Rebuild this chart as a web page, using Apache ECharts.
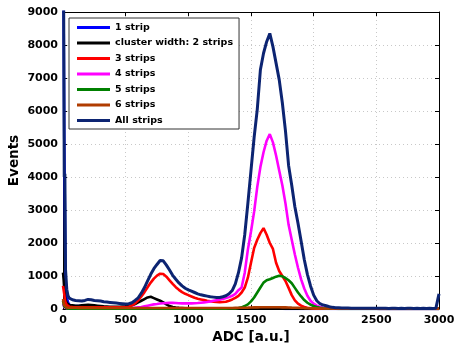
<!DOCTYPE html>
<html>
<head>
<meta charset="utf-8">
<script src="https://cdn.jsdelivr.net/npm/echarts@6/dist/echarts.min.js"></script>
<style>html,body{margin:0;padding:0;background:#fff;}#c{width:456px;height:345px;}</style>
</head>
<body>
<div id="c"></div>
<script>
// ADC bin positions
const adc = [0,5,10,15,20,30,40,50,
 75,100,125,150,175,200,225,250,275,300,325,350,375,400,425,450,475,500,
 525,550,575,600,625,650,675,700,725,750,775,800,825,850,875,900,925,950,975,1000,
 1025,1050,1075,1100,1125,1150,1175,1200,1225,1250,1275,1300,1325,1350,1375,1400,1425,1450,1475,1500,
 1525,1550,1575,1600,1625,1650,1675,1700,1725,1750,1775,1800,1825,1850,1875,1900,1925,1950,1975,2000,
 2025,2050,2075,2100,2125,2150,2175,2200,2225,2250,2275,2300,2325,2350,2375,2400,2425,2450,2475,2500,
 2525,2550,2575,2600,2625,2650,2675,2700,2725,2750,2775,2800,2825,2850,2875,2900,2925,2950,2975,
 2990,3000];

const strip1 = [12000,9000,5200,3000,700,350,200,130,
 100,90,90,100,110,110,100,90,70,50,40,30,25,20,20,15,15,15,
 12,12,10,10,10,10,10,10,10,10,10,10,10,10,8,8,8,8,8,8,
 8,8,8,7,7,7,7,6,6,6,6,6,6,6,6,6,6,6,6,6,
 6,6,6,6,6,6,6,6,6,6,5,5,5,5,5,5,5,5,5,5,
 5,5,5,5,5,5,5,5,5,5,5,5,5,5,5,5,5,5,5,5,
 5,5,5,5,5,5,5,5,5,5,5,5,5,5,5,5,5,5,5,
 5,5];

const strip2 = [1100,900,600,400,280,180,140,120,
 110,100,100,110,120,130,120,110,100,90,80,75,70,70,70,70,75,80,
 90,110,150,200,250,300,350,370,330,290,250,200,140,90,60,45,35,30,25,20,
 18,16,15,14,13,12,12,11,11,10,10,10,10,10,10,10,10,10,10,10,
 10,10,10,10,10,10,10,10,10,10,10,10,10,10,10,8,8,8,8,8,
 6,6,6,6,6,6,6,6,6,6,6,6,6,6,6,6,6,6,6,6,
 5,5,5,5,5,5,5,5,5,5,5,5,5,5,5,5,5,5,5,
 5,5];

const strip3 = [700,650,450,300,200,120,90,70,
 60,55,55,55,55,55,55,55,55,52,50,50,50,50,50,50,55,60,
 70,110,170,260,380,510,660,800,920,1010,1070,1060,980,870,760,660,580,510,460,420,
 380,340,310,290,270,250,235,220,210,205,210,220,250,290,340,400,500,650,950,1400,
 1850,2100,2300,2450,2250,2000,1820,1400,1150,1000,850,640,420,260,160,100,60,40,25,15,
 10,10,10,10,10,10,10,10,10,10,10,10,10,10,10,10,10,10,10,10,
 8,8,8,8,8,8,8,8,8,8,8,8,8,8,8,8,8,8,8,
 8,8];

const strip4 = [150,100,60,40,30,20,20,20,
 20,20,18,18,18,18,18,18,18,18,18,18,18,18,18,18,20,22,
 25,30,40,50,60,80,100,120,140,150,165,175,180,185,185,180,175,170,170,170,
 170,175,180,190,200,210,230,250,265,280,300,330,360,400,460,570,650,1100,1800,2350,
 2950,3700,4300,4750,5100,5300,5050,4650,4200,3750,3200,2550,2100,1650,1250,900,620,400,250,160,
 100,60,40,25,15,10,10,8,8,8,6,6,6,6,6,6,6,6,6,6,
 5,5,5,5,5,5,5,5,5,5,5,5,5,5,5,5,5,5,5,
 5,5];

const strip5 = [250,150,80,50,30,20,15,12,
 10,10,10,10,10,10,10,10,10,10,10,10,10,10,10,10,10,10,
 10,10,10,10,10,10,10,10,10,10,10,10,10,10,10,10,10,10,10,10,
 10,10,10,10,10,10,10,10,10,10,10,12,14,16,20,30,50,90,140,230,
 350,500,650,800,870,900,940,980,1010,990,940,870,780,640,500,380,270,190,130,90,
 60,40,25,15,10,8,6,5,5,5,5,5,5,5,5,5,5,5,5,5,
 5,5,5,5,5,5,5,5,5,5,5,5,5,5,5,5,5,5,5,
 5,5];

const strip6 = [300,200,120,80,60,45,40,40,
 38,36,35,35,35,34,33,33,32,32,32,31,31,30,30,30,30,30,
 30,30,30,30,30,30,30,30,30,30,30,30,30,30,30,30,30,30,30,30,
 30,30,30,30,30,30,30,30,30,30,30,30,30,32,34,36,38,40,42,45,
 48,50,52,54,55,55,55,54,52,50,48,45,42,40,36,32,28,25,22,20,
 18,16,15,14,13,12,12,12,12,12,12,12,12,12,12,12,12,12,12,12,
 10,10,10,10,10,10,10,10,10,10,10,10,10,10,10,10,10,10,10,
 10,10];

const allStrips = [12000,9600,4000,4100,1200,600,400,330,
 280,260,250,240,260,290,280,260,250,240,220,210,200,190,180,170,160,150,
 160,190,260,340,480,650,850,1050,1220,1350,1470,1460,1330,1180,1020,900,790,700,630,580,
 540,500,460,430,410,390,370,360,350,350,370,400,460,560,760,1100,1550,2250,3200,4200,
 5200,6050,7250,7750,8100,8350,7950,7450,6950,6250,5400,4350,3750,3100,2600,2050,1500,1050,700,420,
 250,160,120,100,70,50,40,35,30,30,28,26,25,24,22,22,20,20,20,20,
 20,19,20,18,19,20,18,19,18,20,19,18,19,18,20,18,19,18,19,
 20,460];

const seriesNames = ['1 strip','cluster width: 2 strips','3 strips','4 strips','5 strips','6 strips','All strips'];
const seriesColors = ['#0000ff','#000000','#ff0000','#ff00ff','#008000','#b03c00','#0c2472'];
const seriesValues = [strip1, strip2, strip3, strip4, strip5, strip6, allStrips];

const xTicks = {min:0, max:3000, interval:500};
const yTicks = {min:0, max:9000, interval:1000};

const font = 'DejaVu Sans';
const chart = echarts.init(document.getElementById('c'), null, {renderer:'canvas'});

const series = seriesNames.map((n,i)=>({
  name:n, type:'line', symbol:'none', showSymbol:false,
  data: adc.map((x,k)=>[x, seriesValues[i][k]]),
  lineStyle:{color:seriesColors[i], width: i===6 ? 3 : 2.6},
  itemStyle:{color:seriesColors[i]},
  clip:true, z: 2+i
}));

const plain = v => String(v);

chart.setOption({
  animation:false,
  backgroundColor:'#fff',
  grid:{left:63, right:17, top:12, bottom:36, containLabel:false, outerBoundsMode:'none'},
  legend:{
    data:seriesNames, orient:'vertical', left:69, top:18,
    backgroundColor:'#fff', borderColor:'#333', borderWidth:1,
    padding:[4,6,3,8], itemWidth:33, itemHeight:3, itemGap:4.5,
    icon:'rect',
    textStyle:{fontFamily:font, fontWeight:'bold', fontSize:9.5, color:'#000', lineHeight:11},
    z:20
  },
  xAxis:[{
    type:'value', min:xTicks.min, max:xTicks.max, interval:xTicks.interval,
    name:'ADC [a.u.]', nameLocation:'middle', nameGap:21, nameMoveOverlap:false,
    nameTextStyle:{fontFamily:font, fontWeight:'bold', fontSize:13.5, color:'#000'},
    axisLine:{show:true, onZero:false, lineStyle:{color:'#000', width:1}},
    axisTick:{show:true, inside:true, length:4, lineStyle:{color:'#000'}},
    axisLabel:{fontFamily:font, fontWeight:'bold', fontSize:11, color:'#000', margin:6, formatter:plain},
    splitLine:{show:true, lineStyle:{color:'#c8c8c8', type:[1,3], width:1}}
  },{
    type:'value', position:'top', min:xTicks.min, max:xTicks.max, interval:xTicks.interval,
    axisLine:{show:true, onZero:false, lineStyle:{color:'#000', width:1}},
    axisTick:{show:true, inside:true, length:4, lineStyle:{color:'#000'}},
    axisLabel:{show:false}, splitLine:{show:false}
  }],
  yAxis:[{
    type:'value', min:yTicks.min, max:yTicks.max, interval:yTicks.interval,
    name:'Events', nameLocation:'middle', nameGap:42, nameRotate:90, nameMoveOverlap:false,
    nameTextStyle:{fontFamily:font, fontWeight:'bold', fontSize:13.5, color:'#000'},
    axisLine:{show:true, onZero:false, lineStyle:{color:'#000', width:1}},
    axisTick:{show:true, inside:true, length:4, lineStyle:{color:'#000'}},
    axisLabel:{fontFamily:font, fontWeight:'bold', fontSize:11, color:'#000', margin:5, formatter:plain},
    splitLine:{show:true, lineStyle:{color:'#c8c8c8', type:[1,3], width:1}}
  },{
    type:'value', position:'right', min:yTicks.min, max:yTicks.max, interval:yTicks.interval,
    axisLine:{show:true, onZero:false, lineStyle:{color:'#000', width:1}},
    axisTick:{show:true, inside:true, length:4, lineStyle:{color:'#000'}},
    axisLabel:{show:false}, splitLine:{show:false}
  }],
  series: series
});
</script>
</body>
</html>
